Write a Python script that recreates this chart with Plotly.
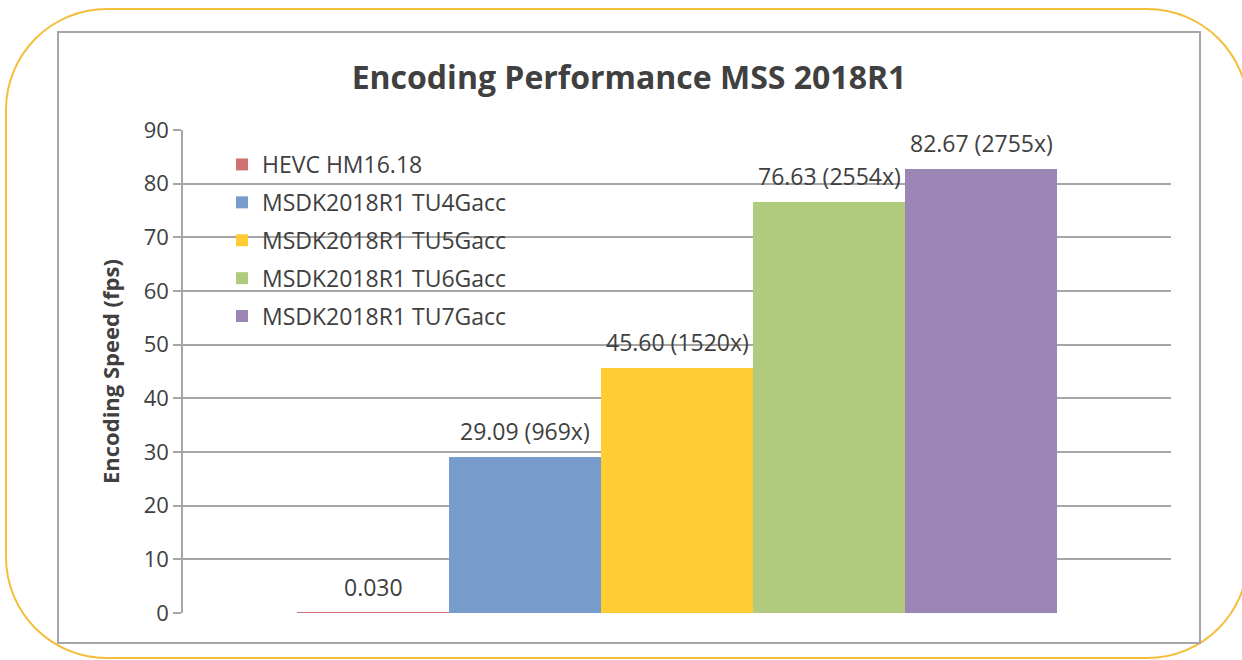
import plotly.graph_objects as go

series = ["HEVC HM16.18", "MSDK2018R1 TU4Gacc", "MSDK2018R1 TU5Gacc",
          "MSDK2018R1 TU6Gacc", "MSDK2018R1 TU7Gacc"]
values = [0.03, 29.09, 45.60, 76.63, 82.67]
labels = ["0.030", "29.09 (969x)", "45.60 (1520x)", "76.63 (2554x)", "82.67 (2755x)"]
colors = ["#D07272", "#779BCB", "#FFCC33", "#B0CB7E", "#9B85B5"]
y_ticks = [0, 10, 20, 30, 40, 50, 60, 70, 80, 90]

W, H = 1242, 660
L, R, T, B = 183, 1171, 130, 613  # plot area (px)
FONT = "Open Sans"
TXT = "#404040"


def px(x):
    return (x - L) / (R - L)


def py(y):
    return (B - y) / (B - T)


fig = go.Figure()
for i, (s, v, c) in enumerate(zip(series, values, colors)):
    fig.add_trace(go.Bar(
        x=[s], y=[v], name=s, marker=dict(color=c, line=dict(width=0)),
        width=1.0, legendgroup=s,
    ))
    fig.add_annotation(x=s, y=v, text=labels[i], showarrow=False,
                       yanchor="middle", yshift=26,
                       font=dict(family=FONT, size=23, color=TXT))

# rounded outer frame (cubic approximations of arcs)
k = 0.5523
x0, x1, y0, y1, r = 6, 1248, 9, 658, 101


def P(x, y):
    return f"{px(x):.5f},{py(y):.5f}"


path = (
    f"M {P(x0 + r, y0)} L {P(x1 - r, y0)} "
    f"C {P(x1 - r + k * r, y0)} {P(x1, y0 + r - k * r)} {P(x1, y0 + r)} "
    f"L {P(x1, y1 - r)} "
    f"C {P(x1, y1 - r + k * r)} {P(x1 - r + k * r, y1)} {P(x1 - r, y1)} "
    f"L {P(x0 + r, y1)} "
    f"C {P(x0 + r - k * r, y1)} {P(x0, y1 - r + k * r)} {P(x0, y1 - r)} "
    f"L {P(x0, y0 + r)} "
    f"C {P(x0, y0 + r - k * r)} {P(x0 + r - k * r, y0)} {P(x0 + r, y0)} Z"
)
fig.add_shape(type="path", xref="paper", yref="paper", path=path,
              line=dict(color="#F5BE3A", width=2), fillcolor="rgba(0,0,0,0)")
fig.add_shape(type="rect", xref="paper", yref="paper",
              x0=px(58), x1=px(1200), y0=py(643), y1=py(32),
              line=dict(color="#A6A6A6", width=2), fillcolor="rgba(0,0,0,0)")

fig.add_annotation(xref="paper", yref="paper", x=px(110), y=py(372),
                   text="<b>Encoding Speed (fps)</b>", textangle=-90,
                   showarrow=False, xanchor="center", yanchor="middle",
                   font=dict(family=FONT, size=22, color=TXT))

fig.update_layout(
    width=W, height=H,
    margin=dict(l=L, r=W - R, t=T, b=H - B, pad=0),
    paper_bgcolor="white", plot_bgcolor="white",
    barmode="overlay", bargap=0,
    title=dict(text="<b>Encoding Performance MSS 2018R1</b>",
               xref="container", x=629 / W, xanchor="center",
               yref="container", y=1 - 78 / H, yanchor="middle",
               font=dict(family=FONT, size=32, color=TXT)),
    font=dict(family=FONT, color=TXT),
    showlegend=True,
    legend=dict(x=px(222), y=py(143), xanchor="left", yanchor="top",
                bgcolor="rgba(0,0,0,0)", font=dict(family=FONT, size=23, color=TXT),
                traceorder="grouped", tracegroupgap=5, itemwidth=30),
    xaxis=dict(categoryorder="array", categoryarray=series, range=[-1.25, 5.25],
               showticklabels=False, showgrid=False, zeroline=False,
               showline=False, ticks=""),
    yaxis=dict(range=[0, 90], tickvals=y_ticks, showgrid=True,
               gridcolor="#A6A6A6", gridwidth=1.5, zeroline=False,
               showline=True, linecolor="#A6A6A6", linewidth=1.5,
               ticks="outside", ticklen=8, tickcolor="#A6A6A6", tickwidth=1.5,
               tickfont=dict(family=FONT, size=22, color=TXT)),
)

fig.write_html("out.html", config={"displayModeBar": False},
               post_script="document.body.style.margin='0';document.body.style.overflow='hidden';")
